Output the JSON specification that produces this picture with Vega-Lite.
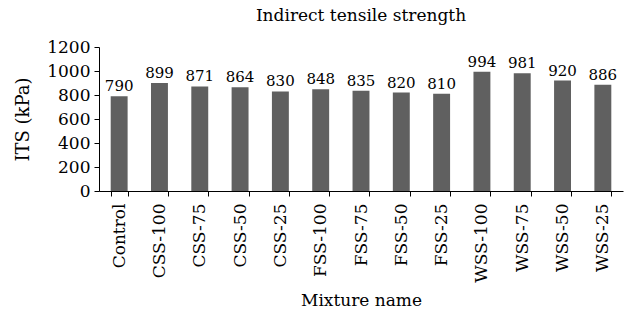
{
  "$schema": "https://vega.github.io/schema/vega-lite/v6.json",
  "width": 524,
  "height": 144,
  "autosize": {"type": "none"},
  "padding": {"left": 99, "top": 47, "right": 8, "bottom": 124},
  "background": "white",
  "title": {"text": "Indirect tensile strength", "font": "DejaVu Serif", "fontSize": 17, "fontWeight": "normal", "color": "black", "offset": 13},
  "config": {
    "view": {"stroke": null},
    "axis": {"labelFont": "DejaVu Serif", "titleFont": "DejaVu Serif", "labelColor": "black", "titleColor": "black", "domainColor": "black", "tickColor": "black", "grid": false, "titleFontWeight": "normal"}
  },
  "data": {"values": [
    {"mix": "Control", "its": 790},
    {"mix": "CSS-100", "its": 899},
    {"mix": "CSS-75", "its": 871},
    {"mix": "CSS-50", "its": 864},
    {"mix": "CSS-25", "its": 830},
    {"mix": "FSS-100", "its": 848},
    {"mix": "FSS-75", "its": 835},
    {"mix": "FSS-50", "its": 820},
    {"mix": "FSS-25", "its": 810},
    {"mix": "WSS-100", "its": 994},
    {"mix": "WSS-75", "its": 981},
    {"mix": "WSS-50", "its": 920},
    {"mix": "WSS-25", "its": 886}
  ]},
  "encoding": {
    "x": {"field": "mix", "type": "nominal", "sort": null,
      "scale": {"paddingInner": 0.58, "paddingOuter": 0.29},
      "axis": {"title": "Mixture name", "labelAngle": -90, "labelFontSize": 17, "titleFontSize": 17, "tickBand": "extent", "tickSize": 5, "labelPadding": 7, "titlePadding": 10, "labelBaseline": "middle"}},
    "y": {"field": "its", "type": "quantitative",
      "scale": {"domain": [0, 1200]},
      "axis": {"title": "ITS (kPa)", "format": "d", "values": [0, 200, 400, 600, 800, 1000, 1200], "labelFontSize": 17, "titleFontSize": 18, "tickSize": 5, "labelPadding": 4, "titlePadding": 14}}
  },
  "layer": [
    {"mark": {"type": "bar", "color": "#606060"}},
    {"mark": {"type": "text", "dy": -10, "font": "DejaVu Serif", "fontSize": 15, "color": "black"},
     "encoding": {"text": {"field": "its", "type": "quantitative", "format": "d"}}}
  ]
}
